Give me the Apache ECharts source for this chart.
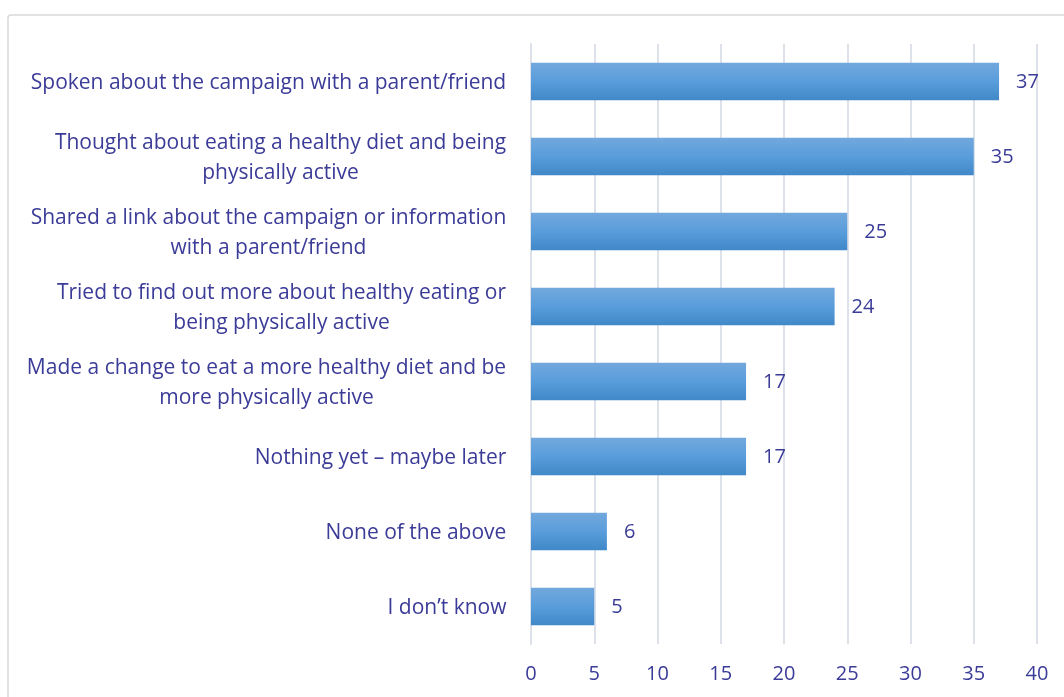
<!DOCTYPE html>
<html>
<head>
<meta charset="utf-8">
<script src="https://cdn.jsdelivr.net/npm/echarts@6/dist/echarts.min.js"></script>
<style>
  html, body { margin: 0; padding: 0; background: #fff; }
  #chart { width: 1064px; height: 697px; }
</style>
</head>
<body>
<div id="chart"></div>
<script>
// answers, top to bottom as drawn
const categories = [
  'Spoken about the campaign with a parent/friend',
  'Thought about eating a healthy diet and being\nphysically active',
  'Shared a link about the campaign or information\nwith a parent/friend',
  'Tried to find out more about healthy eating or\nbeing physically active',
  'Made a change to eat a more healthy diet and be\nmore physically active',
  'Nothing yet \u2013 maybe later',
  'None of the above',
  'I don\u2019t know'
];
const values = [37, 35, 25, 24, 17, 17, 6, 5];

const textColor = '#3B3B98';
const font = 'Open Sans';
const labelSize = 21;

// wrapped lines are centred under each other, block sits right-aligned
const ctx = document.createElement('canvas').getContext('2d');
ctx.font = labelSize + 'px "' + font + '"';
const rich = {};
categories.forEach((c, i) => {
  const w = Math.max(...c.split('\n').map(l => ctx.measureText(l).width));
  rich['r' + i] = {
    width: Math.ceil(w) + 1,
    align: 'center',
    color: textColor,
    fontSize: labelSize,
    lineHeight: 30,
    fontFamily: font
  };
});

const chart = echarts.init(document.getElementById('chart'));

const option = {
  animation: false,
  textStyle: { fontFamily: font },
  graphic: [
    {
      type: 'rect',
      shape: { x: 8, y: 15, width: 1070, height: 700, r: 3 },
      style: { fill: 'none', stroke: '#D9D9D9', lineWidth: 1.5 },
      silent: true
    }
  ],
  grid: { left: 531, right: 27, top: 44, bottom: 53 },
  xAxis: {
    type: 'value',
    min: 0,
    max: 40,
    interval: 5,
    axisLine: { show: false },
    axisTick: { show: false },
    axisLabel: { color: textColor, fontSize: 20, margin: 20, fontFamily: font },
    splitLine: { lineStyle: { color: '#DDE2EA', width: 2 } }
  },
  yAxis: {
    type: 'category',
    inverse: true,
    data: categories,
    axisLine: { show: true, lineStyle: { color: '#DDE2EA', width: 2 } },
    axisTick: { show: false },
    axisLabel: {
      margin: 24,
      align: 'right',
      padding: [4, 0, 0, 0],
      formatter: (val, idx) => val.split('\n').map(l => '{r' + idx + '|' + l + '}').join('\n'),
      rich: rich
    }
  },
  series: [{
    type: 'bar',
    data: values,
    barCategoryGap: '50%',
    itemStyle: {
      color: new echarts.graphic.LinearGradient(0, 0, 0, 1, [
        { offset: 0, color: '#72A8DD' },
        { offset: 0.5, color: '#599DDB' },
        { offset: 1, color: '#4088C8' }
      ])
    },
    label: {
      show: true,
      position: 'right',
      distance: 17,
      offset: [0, 1],
      color: textColor,
      fontSize: 20,
      fontFamily: font
    }
  }]
};

chart.setOption(option);
</script>
</body>
</html>
